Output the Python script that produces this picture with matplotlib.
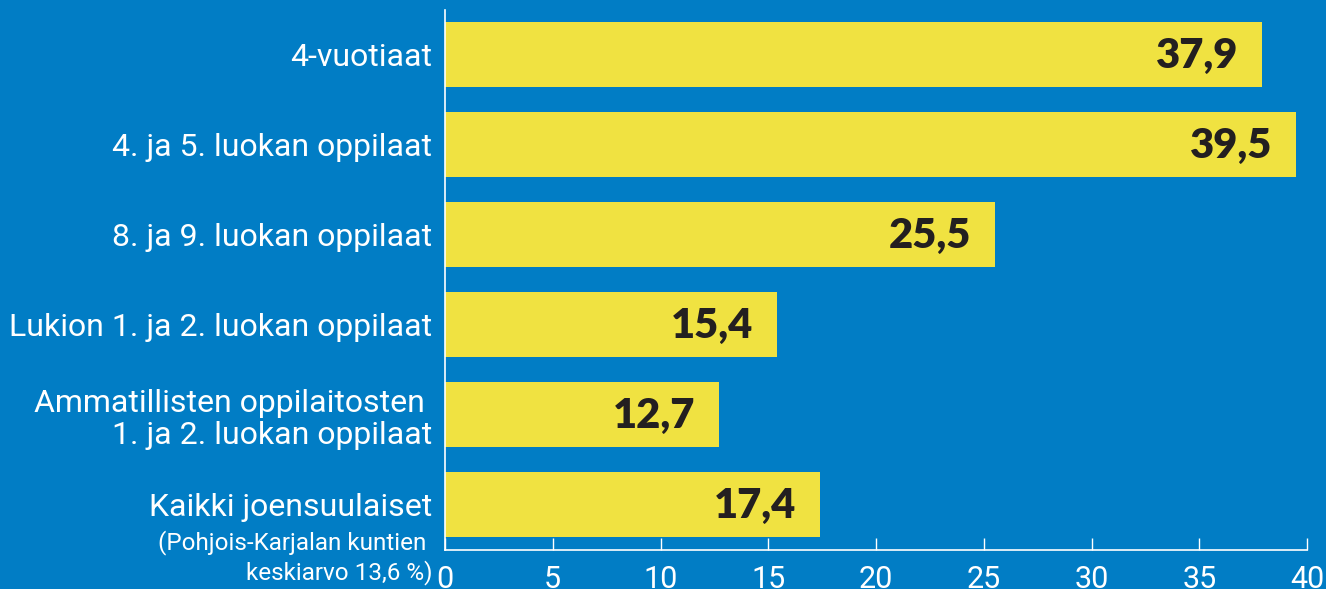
import matplotlib
matplotlib.use('Agg')
import matplotlib.pyplot as plt

# data
categories = ['4-vuotiaat',
              '4. ja 5. luokan oppilaat',
              '8. ja 9. luokan oppilaat',
              'Lukion 1. ja 2. luokan oppilaat',
              'Ammatillisten oppilaitosten \n1. ja 2. luokan oppilaat',
              'Kaikki joensuulaiset']
values = [37.9, 39.5, 25.5, 15.4, 12.7, 17.4]
value_labels = ['37,9', '39,5', '25,5', '15,4', '12,7', '17,4']
note = '(Pohjois-Karjalan kuntien \nkeskiarvo 13,6 %)'
xticks = [0, 5, 10, 15, 20, 25, 30, 35, 40]

blue = '#017dc5'
yellow = '#f0e241'
dark = '#231f20'

fig = plt.figure(figsize=(13.26, 5.89), dpi=100, facecolor=blue)
ax = fig.add_axes([445 / 1326, 39 / 589, 862 / 1326, 540 / 589])
ax.set_facecolor(blue)

pos = list(range(len(categories)))
ax.barh(pos, values, height=0.72, color=yellow, zorder=2)
ax.set_ylim(len(categories) - 0.5, -0.49)
ax.set_xlim(0, 40)

for p, v, lab in zip(pos, values, value_labels):
    ax.annotate(lab, xy=(v, p), xytext=(-17, -1), textcoords='offset points',
                ha='right', va='center', fontsize=30, fontweight='heavy',
                family='Lato', color=dark, zorder=3)

ax.set_yticks(pos)
ax.set_yticklabels(categories, fontsize=23, family='Roboto', color='white',
                   linespacing=1.15)
ax.tick_params(axis='y', length=0, pad=9)
ax.set_xticks(xticks)
ax.set_xticklabels([str(t) for t in xticks], fontsize=22, family='Roboto',
                   color='white')
ax.tick_params(axis='x', direction='in', length=8.5, width=1, color='white',
               pad=11)

# smaller note under the last category
ax.annotate(note, xy=(0, pos[-1]), xycoords=('axes fraction', 'data'),
            xytext=(-9, -18), textcoords='offset points', ha='right', va='top',
            fontsize=17.5, family='Roboto', color='white', linespacing=1.25,
            annotation_clip=False)

for s in ['top', 'right']:
    ax.spines[s].set_visible(False)
for s in ['left', 'bottom']:
    ax.spines[s].set_color('white')
    ax.spines[s].set_linewidth(1.2)

fig.savefig('out.png', dpi=100, facecolor=blue)
